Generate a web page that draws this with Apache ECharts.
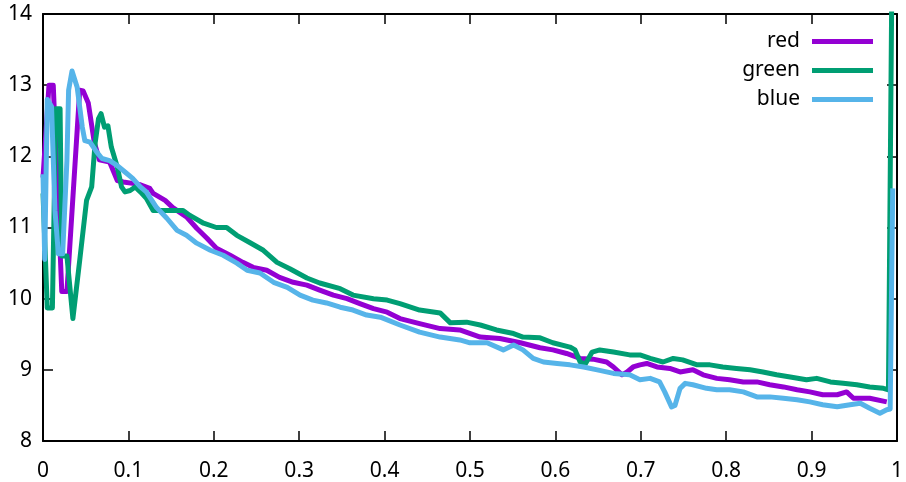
<!DOCTYPE html>
<html>
<head>
<meta charset="utf-8">
<script src="https://cdn.jsdelivr.net/npm/echarts@6/dist/echarts.min.js"></script>
<style>
html,body{margin:0;padding:0;background:#fff;}
#chart{width:906px;height:482px;}
</style>
</head>
<body>
<div id="chart"></div>
<script>
const seriesNames = ['red', 'green', 'blue'];
const xTicks = [0, 0.1, 0.2, 0.3, 0.4, 0.5, 0.6, 0.7, 0.8, 0.9, 1];
const yTicks = [8, 9, 10, 11, 12, 13, 14];

const redX = [0, 0.007, 0.012, 0.022, 0.028, 0.043, 0.047, 0.053, 0.06, 0.066, 0.078, 0.087, 0.094, 0.105, 0.114, 0.125, 0.129, 0.143, 0.152, 0.168, 0.18, 0.192, 0.203, 0.219, 0.234, 0.246, 0.262, 0.277, 0.293, 0.309, 0.324, 0.34, 0.356, 0.371, 0.387, 0.403, 0.418, 0.441, 0.465, 0.488, 0.512, 0.535, 0.559, 0.582, 0.597, 0.613, 0.629, 0.644, 0.66, 0.668, 0.678, 0.684, 0.691, 0.699, 0.707, 0.719, 0.734, 0.746, 0.761, 0.773, 0.789, 0.804, 0.82, 0.836, 0.851, 0.867, 0.883, 0.898, 0.913, 0.93, 0.941, 0.949, 0.968, 0.988];
const redY = [11.7, 13.0, 13.0, 10.1, 10.1, 12.93, 12.92, 12.75, 12.2, 11.95, 11.92, 11.66, 11.64, 11.62, 11.6, 11.55, 11.48, 11.38, 11.28, 11.15, 10.99, 10.85, 10.71, 10.61, 10.51, 10.44, 10.4, 10.3, 10.23, 10.19, 10.12, 10.05, 10.0, 9.93, 9.86, 9.81, 9.72, 9.65, 9.58, 9.56, 9.46, 9.44, 9.38, 9.31, 9.28, 9.23, 9.16, 9.15, 9.11, 9.04, 8.93, 8.97, 9.04, 9.07, 9.09, 9.04, 9.02, 8.97, 9.0, 8.93, 8.88, 8.86, 8.83, 8.83, 8.79, 8.76, 8.72, 8.69, 8.65, 8.65, 8.69, 8.6, 8.6, 8.55];

const greenX = [0, 0.005, 0.011, 0.015, 0.02, 0.022, 0.028, 0.035, 0.043, 0.051, 0.057, 0.061, 0.065, 0.068, 0.072, 0.076, 0.08, 0.087, 0.092, 0.096, 0.102, 0.108, 0.114, 0.121, 0.129, 0.137, 0.164, 0.172, 0.188, 0.203, 0.215, 0.227, 0.242, 0.258, 0.274, 0.289, 0.309, 0.324, 0.348, 0.363, 0.387, 0.403, 0.418, 0.441, 0.465, 0.477, 0.496, 0.512, 0.531, 0.551, 0.562, 0.582, 0.597, 0.617, 0.623, 0.629, 0.635, 0.643, 0.652, 0.668, 0.687, 0.699, 0.711, 0.726, 0.738, 0.749, 0.766, 0.781, 0.796, 0.812, 0.828, 0.843, 0.859, 0.875, 0.894, 0.906, 0.922, 0.937, 0.953, 0.968, 0.984, 0.99, 0.994, 0.997];
const greenY = [11.48, 9.87, 9.87, 12.67, 12.67, 10.6, 10.6, 9.72, 10.54, 11.38, 11.57, 12.18, 12.53, 12.6, 12.41, 12.43, 12.13, 11.85, 11.57, 11.5, 11.52, 11.57, 11.5, 11.41, 11.24, 11.24, 11.24, 11.17, 11.06, 11.0, 11.0, 10.89, 10.79, 10.68, 10.51, 10.42, 10.29, 10.22, 10.14, 10.05, 10.0, 9.98, 9.93, 9.84, 9.8, 9.66, 9.67, 9.63, 9.56, 9.51, 9.46, 9.45, 9.38, 9.32, 9.28, 9.11, 9.08, 9.25, 9.28, 9.25, 9.21, 9.21, 9.16, 9.11, 9.16, 9.14, 9.07, 9.07, 9.04, 9.02, 9.0, 8.97, 8.93, 8.9, 8.86, 8.88, 8.83, 8.81, 8.79, 8.76, 8.74, 8.72, 14.5, 15];

const blueX = [0, 0.002, 0.005, 0.01, 0.014, 0.018, 0.023, 0.028, 0.03, 0.034, 0.04, 0.046, 0.049, 0.055, 0.063, 0.069, 0.078, 0.087, 0.096, 0.105, 0.114, 0.121, 0.133, 0.145, 0.157, 0.168, 0.18, 0.196, 0.211, 0.227, 0.239, 0.254, 0.27, 0.286, 0.301, 0.316, 0.332, 0.348, 0.363, 0.379, 0.395, 0.418, 0.441, 0.465, 0.488, 0.5, 0.52, 0.539, 0.551, 0.562, 0.574, 0.586, 0.602, 0.617, 0.633, 0.649, 0.668, 0.687, 0.699, 0.711, 0.722, 0.728, 0.736, 0.74, 0.746, 0.752, 0.761, 0.777, 0.789, 0.804, 0.82, 0.836, 0.851, 0.867, 0.883, 0.898, 0.913, 0.93, 0.945, 0.957, 0.968, 0.98, 0.988, 0.992, 0.995];
const blueY = [11.75, 10.55, 12.8, 12.7, 11.24, 10.63, 10.63, 11.94, 12.93, 13.2, 12.97, 12.41, 12.22, 12.2, 12.06, 11.97, 11.94, 11.87, 11.78, 11.69, 11.57, 11.5, 11.28, 11.13, 10.96, 10.89, 10.78, 10.68, 10.61, 10.5, 10.4, 10.36, 10.23, 10.16, 10.05, 9.98, 9.94, 9.88, 9.84, 9.77, 9.74, 9.63, 9.53, 9.46, 9.42, 9.38, 9.38, 9.28, 9.35, 9.28, 9.16, 9.11, 9.09, 9.07, 9.04, 9.0, 8.95, 8.93, 8.86, 8.88, 8.83, 8.69, 8.48, 8.5, 8.74, 8.81, 8.79, 8.74, 8.72, 8.72, 8.69, 8.62, 8.62, 8.6, 8.58, 8.55, 8.51, 8.48, 8.51, 8.53, 8.46, 8.39, 8.44, 8.45, 11.55];

const colors = ['#9400d3', '#009e73', '#56b4e9'];
const FONT = 'Noto Sans';
const FS = 21;

function zip(xs, ys) { return xs.map((x, i) => [x, ys[i]]); }

const chart = echarts.init(document.getElementById('chart'), null, { renderer: 'canvas' });

const axisLine = { show: true, onZero: false, lineStyle: { color: '#000', width: 2 } };
const tick = { show: true, inside: true, length: 10, lineStyle: { color: '#000', width: 1.5 } };
const label = { color: '#000', fontFamily: FONT, fontSize: FS };

chart.setOption({
  animation: false,
  backgroundColor: '#fff',
  color: colors,
  grid: { left: 43, right: 9, top: 14, bottom: 41, containLabel: false },
  legend: {
    data: seriesNames,
    orient: 'vertical',
    right: 33,
    top: 31,
    padding: 0,
    align: 'right',
    icon: 'rect',
    itemWidth: 61,
    itemHeight: 5,
    itemGap: 8,
    textStyle: { color: '#000', fontFamily: FONT, fontSize: FS, padding: [0, 7, 0, 0] }
  },
  xAxis: [
    { type: 'value', position: 'bottom', min: 0, max: 1, interval: 0.1,
      axisLine, axisTick: tick, splitLine: { show: false },
      axisLabel: Object.assign({ margin: 20, formatter: v => String(+v.toFixed(1)) }, label) },
    { type: 'value', position: 'top', min: 0, max: 1, interval: 0.1,
      axisLine, axisTick: tick, splitLine: { show: false }, axisLabel: { show: false } }
  ],
  yAxis: [
    { type: 'value', position: 'left', min: 8, max: 14, interval: 1,
      axisLine, axisTick: tick, splitLine: { show: false },
      axisLabel: Object.assign({ margin: 11 }, label) },
    { type: 'value', position: 'right', min: 8, max: 14, interval: 1,
      axisLine, axisTick: tick, splitLine: { show: false }, axisLabel: { show: false } }
  ],
  series: [
    { name: seriesNames[0], type: 'line', data: zip(redX, redY) },
    { name: seriesNames[1], type: 'line', data: zip(greenX, greenY) },
    { name: seriesNames[2], type: 'line', data: zip(blueX, blueY) }
  ].map(s => Object.assign(s, {
    showSymbol: false, symbol: 'none', clip: true,
    lineStyle: { width: 5, join: 'round' },
    emphasis: { disabled: true }
  }))
});
</script>
</body>
</html>
